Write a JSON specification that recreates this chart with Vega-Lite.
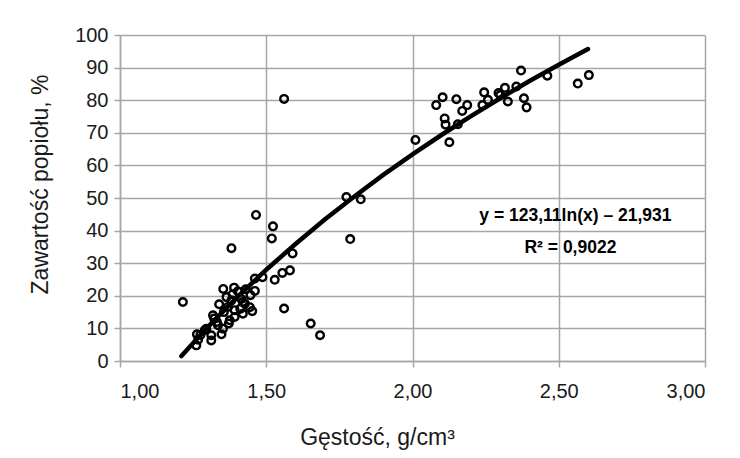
{
  "$schema": "https://vega.github.io/schema/vega-lite/v6.json",
  "width": 585,
  "height": 326,
  "autosize": {"type": "none"},
  "padding": {"left": 120, "top": 35, "right": 35, "bottom": 97},
  "background": "white",
  "config": {
    "view": {"stroke": null},
    "font": "Liberation Sans",
    "axis": {
      "grid": true,
      "gridColor": "#a6a6a6",
      "gridWidth": 1.5,
      "domainColor": "#a6a6a6",
      "domainWidth": 1.5,
      "tickColor": "#a6a6a6",
      "tickWidth": 1.5,
      "tickSize": 6,
      "labelFont": "Liberation Sans",
      "labelFontSize": 20,
      "labelColor": "#1a1a1a",
      "titleFont": "Liberation Sans",
      "titleFontWeight": "normal",
      "titleFontSize": 23,
      "titleColor": "#1a1a1a"
    }
  },
  "datasets": {
    "points": [
      {"x": 1.215, "y": 18.1}, {"x": 1.261, "y": 4.8}, {"x": 1.263, "y": 8.2}, {"x": 1.267, "y": 6.5},
      {"x": 1.275, "y": 8.0}, {"x": 1.29, "y": 9.5}, {"x": 1.295, "y": 9.9}, {"x": 1.312, "y": 6.3},
      {"x": 1.312, "y": 7.9}, {"x": 1.318, "y": 14.0}, {"x": 1.322, "y": 13.0}, {"x": 1.331, "y": 12.0},
      {"x": 1.335, "y": 11.0}, {"x": 1.339, "y": 17.4}, {"x": 1.347, "y": 8.2}, {"x": 1.352, "y": 9.9},
      {"x": 1.353, "y": 22.1}, {"x": 1.355, "y": 15.0}, {"x": 1.364, "y": 19.6}, {"x": 1.369, "y": 16.6},
      {"x": 1.372, "y": 11.5}, {"x": 1.375, "y": 12.5}, {"x": 1.381, "y": 34.6}, {"x": 1.381, "y": 18.6},
      {"x": 1.385, "y": 20.5}, {"x": 1.39, "y": 22.5}, {"x": 1.392, "y": 15.6}, {"x": 1.392, "y": 13.5},
      {"x": 1.403, "y": 21.4}, {"x": 1.411, "y": 16.0}, {"x": 1.415, "y": 19.0}, {"x": 1.42, "y": 18.1},
      {"x": 1.42, "y": 14.5}, {"x": 1.427, "y": 17.6}, {"x": 1.43, "y": 22.0}, {"x": 1.444, "y": 16.5},
      {"x": 1.446, "y": 20.2}, {"x": 1.452, "y": 15.3}, {"x": 1.461, "y": 21.5}, {"x": 1.461, "y": 25.3},
      {"x": 1.465, "y": 44.8}, {"x": 1.487, "y": 25.7}, {"x": 1.519, "y": 37.6}, {"x": 1.523, "y": 41.3},
      {"x": 1.529, "y": 24.9}, {"x": 1.555, "y": 27.0}, {"x": 1.561, "y": 16.1}, {"x": 1.561, "y": 80.4},
      {"x": 1.581, "y": 27.8}, {"x": 1.59, "y": 33.0}, {"x": 1.652, "y": 11.5}, {"x": 1.684, "y": 7.9},
      {"x": 1.774, "y": 50.3}, {"x": 1.787, "y": 37.4}, {"x": 1.823, "y": 49.6},
      {"x": 2.01, "y": 67.8}, {"x": 2.081, "y": 78.5}, {"x": 2.103, "y": 80.9}, {"x": 2.11, "y": 74.4},
      {"x": 2.113, "y": 72.5}, {"x": 2.126, "y": 67.1}, {"x": 2.15, "y": 80.3}, {"x": 2.155, "y": 72.6},
      {"x": 2.17, "y": 76.7}, {"x": 2.187, "y": 78.5}, {"x": 2.239, "y": 78.5}, {"x": 2.245, "y": 82.4},
      {"x": 2.258, "y": 80.1}, {"x": 2.294, "y": 82.2}, {"x": 2.3, "y": 81.6}, {"x": 2.316, "y": 83.8},
      {"x": 2.326, "y": 79.6}, {"x": 2.355, "y": 84.2}, {"x": 2.371, "y": 89.1}, {"x": 2.381, "y": 80.6},
      {"x": 2.39, "y": 77.8}, {"x": 2.461, "y": 87.5}, {"x": 2.565, "y": 85.1}, {"x": 2.603, "y": 87.7}
    ],
    "trend": [
      {"x": 1.21, "y": 1.5}, {"x": 1.3, "y": 10.4}, {"x": 1.4, "y": 19.5}, {"x": 1.5, "y": 28.0},
      {"x": 1.6, "y": 35.9}, {"x": 1.7, "y": 43.4}, {"x": 1.8, "y": 50.4}, {"x": 1.9, "y": 57.1},
      {"x": 2.0, "y": 63.4}, {"x": 2.1, "y": 69.4}, {"x": 2.2, "y": 75.1}, {"x": 2.3, "y": 80.6},
      {"x": 2.4, "y": 85.9}, {"x": 2.5, "y": 90.9}, {"x": 2.6, "y": 95.7}
    ],
    "labels": [
      {"x": 2.557, "y": 44.4, "text": "y = 123,11ln(x) – 21,931"},
      {"x": 2.54, "y": 34.6, "text": "R² = 0,9022"}
    ]
  },
  "encoding": {
    "x": {
      "field": "x", "type": "quantitative",
      "scale": {"domain": [1, 3], "nice": false, "zero": false},
      "axis": {
        "values": [1, 1.5, 2, 2.5, 3],
        "labelExpr": "replace(format(datum.value, '.2f'), '.', ',')",
        "labelPadding": 14,
        "title": "Gęstość, g/cm³",
        "titleX": 257,
        "titleY": 76,
        "titleBaseline": "middle",
        "titleAlign": "center"
      }
    },
    "y": {
      "field": "y", "type": "quantitative",
      "scale": {"domain": [0, 100], "nice": false},
      "axis": {
        "values": [0, 10, 20, 30, 40, 50, 60, 70, 80, 90, 100],
        "labelPadding": 6,
        "title": "Zawartość popiołu, %",
        "titleX": -80,
        "titleY": 149,
        "titleAngle": -90,
        "titleBaseline": "middle",
        "titleAlign": "center"
      }
    }
  },
  "layer": [
    {
      "data": {"name": "trend"},
      "mark": {"type": "line", "color": "black", "strokeWidth": 4.5, "strokeCap": "round"}
    },
    {
      "data": {"name": "points"},
      "mark": {"type": "point", "shape": "circle", "filled": false, "color": "black", "strokeWidth": 2.4, "size": 58, "opacity": 1}
    },
    {
      "data": {"name": "labels"},
      "mark": {"type": "text", "font": "Liberation Sans", "fontWeight": "bold", "fontSize": 17.5, "color": "black", "align": "center", "baseline": "middle"},
      "encoding": {"text": {"field": "text"}}
    }
  ]
}
